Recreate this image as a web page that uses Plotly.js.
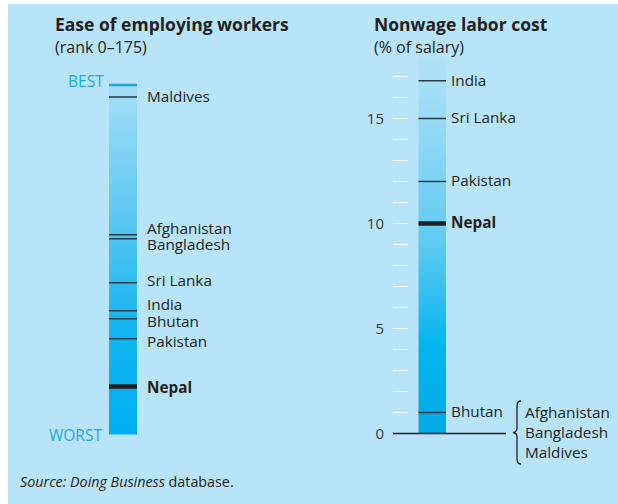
<!DOCTYPE html>
<html>
<head>
<meta charset="utf-8">
<script src="https://cdn.plot.ly/plotly-3.0.1.min.js"></script>
<style>html,body{margin:0;padding:0;background:#fff;}#chart{width:618px;height:504px;}</style>
</head>
<body>
<div id="chart"></div>
<script>
// ---- data ----
const leftCountries = ['Maldives','Afghanistan','Bangladesh','Sri Lanka','India','Bhutan','Pakistan','Nepal'];
const leftRanks = [6, 75, 77, 99, 113, 117, 127, 151];
const rankBest = 0;
const rankWorst = 175;
const rightCountries = ['India','Sri Lanka','Pakistan','Nepal','Bhutan'];
const rightValues = [16.8, 15, 12, 10, 1];
const zeroCountries = ['Afghanistan','Bangladesh','Maldives'];
const zeroValue = 0;
const costMax = 18;
const costTickVals = [0,1,2,3,4,5,6,7,8,9,10,11,12,13,14,15,16,17];
const costTickLabels = ['0','','','','','5','','','','','10','','','','','15','',''];
const highlight = 'Nepal';

// ---- styling / layout helpers ----
const W = 618, H = 504;
const px = x => x / W;
const py = y => 1 - y / H;
const BG = '#b8e4f9';
const TXT = '#231f20';
const CYAN = '#1fa9e1';
const FONT = 'Open Sans, Noto Sans, sans-serif';
const LBL = 15.3;
const leftShift = {'Maldives': 1, 'Afghanistan': 7, 'Bangladesh': -5, 'Sri Lanka': 3, 'India': 6.5, 'Bhutan': -2, 'Pakistan': -2, 'Nepal': 0};
const rightShift = {'India': 1, 'Sri Lanka': 1.5, 'Pakistan': 1.5, 'Nepal': 1, 'Bhutan': 1.5};

function lineTrace(vals, names, xa, ya, pick, width, color) {
  const xs = [], ys = [];
  vals.forEach((v, i) => { if (pick(names[i])) { xs.push(0, 1, null); ys.push(v, v, null); } });
  return {type:'scatter', mode:'lines', x: xs, y: ys, xaxis: xa, yaxis: ya,
          line:{color: color, width: width}, hoverinfo:'skip', showlegend:false};
}

const traces = [
  // left gradient bar
  {type:'scatter', mode:'lines', x:[0,1,1,0,0], y:[rankBest,rankBest,rankWorst,rankWorst,rankBest],
   fill:'toself', line:{width:0, color:'rgba(0,0,0,0)'},
   fillgradient:{type:'vertical', colorscale:[[0,'#00aeef'],[0.3,'#12b5ef'],[0.65,'#62c9f2'],[1,'#a6def7']]},
   xaxis:'x', yaxis:'y', hoverinfo:'skip', showlegend:false},
  lineTrace(leftRanks, leftCountries, 'x', 'y', n => n !== highlight, 1.5, '#2a3a42'),
  lineTrace(leftRanks, leftCountries, 'x', 'y', n => n === highlight, 4.5, TXT),
  {type:'scatter', mode:'lines', x:[0,1], y:[rankBest,rankBest], xaxis:'x', yaxis:'y',
   line:{color:CYAN, width:2.5}, hoverinfo:'skip', showlegend:false},
  // right gradient bar
  {type:'scatter', mode:'lines', x:[0,1,1,0,0], y:[zeroValue,zeroValue,costMax,costMax,zeroValue],
   fill:'toself', line:{width:0, color:'rgba(0,0,0,0)'},
   fillgradient:{type:'vertical', colorscale:[[0,'#05a9e6'],[0.22,'#00b4ef'],[0.5,'#5ecaf2'],[1,'#b3e3f8']]},
   xaxis:'x2', yaxis:'y2', hoverinfo:'skip', showlegend:false},
  lineTrace(rightValues, rightCountries, 'x2', 'y2', n => n !== highlight, 1.5, '#2a3a42'),
  lineTrace(rightValues, rightCountries, 'x2', 'y2', n => n === highlight, 4.5, TXT)
];

const annotations = [];
leftCountries.forEach((c, i) => {
  annotations.push({xref:'x', yref:'y', x:1, y:leftRanks[i], xanchor:'left', yanchor:'middle',
    xshift:9, yshift: leftShift[c] || 0, showarrow:false, borderpad:0,
    text: c === highlight ? '<b>' + c + '</b>' : c, font:{family:FONT, size:LBL, color:TXT}});
});
rightCountries.forEach((c, i) => {
  annotations.push({xref:'x2', yref:'y2', x:1, y:rightValues[i], xanchor:'left', yanchor:'middle',
    xshift:4, yshift: rightShift[c] || 0, showarrow:false, borderpad:0,
    text: c === highlight ? '<b>' + c + '</b>' : c, font:{family:FONT, size:LBL, color:TXT}});
});
annotations.push({xref:'paper', yref:'y2', x:px(524), y:zeroValue, xanchor:'left', yanchor:'middle',
  showarrow:false, align:'left', text: zeroCountries.join('<br>'), borderpad:0, yshift:1,
  font:{family:FONT, size:LBL, color:TXT}});
annotations.push({xref:'x', yref:'y', x:0, y:rankBest, xanchor:'right', yanchor:'middle', xshift:-3, yshift:4,
  showarrow:false, text:'BEST', font:{family:FONT, size:15.5, color:CYAN}});
annotations.push({xref:'x', yref:'y', x:0, y:rankWorst, xanchor:'right', yanchor:'middle', xshift:-5, yshift:0,
  showarrow:false, text:'WORST', font:{family:FONT, size:15.5, color:CYAN}});
// titles
annotations.push({xref:'paper', yref:'paper', x:px(53), y:py(24), xanchor:'left', yanchor:'middle', showarrow:false,
  text:'<b>Ease of employing workers</b>', font:{family:FONT, size:17.5, color:TXT}});
annotations.push({xref:'paper', yref:'paper', x:px(53), y:py(47), xanchor:'left', yanchor:'middle', showarrow:false,
  text:'(rank 0–175)', font:{family:FONT, size:16, color:TXT}});
annotations.push({xref:'paper', yref:'paper', x:px(372), y:py(24), xanchor:'left', yanchor:'middle', showarrow:false,
  text:'<b>Nonwage labor cost</b>', font:{family:FONT, size:17.5, color:TXT}});
annotations.push({xref:'paper', yref:'paper', x:px(372), y:py(47), xanchor:'left', yanchor:'middle', showarrow:false,
  text:'(% of salary)', font:{family:FONT, size:16, color:TXT}});
annotations.push({xref:'paper', yref:'paper', x:px(18), y:py(481), xanchor:'left', yanchor:'middle', showarrow:false,
  text:'<i>Source: Doing Business</i> database.', font:{family:FONT, size:14.3, color:TXT}});

// brace path in paper coords
function P(x, y) { return px(x).toFixed(5) + ',' + py(y).toFixed(5); }
const brace = 'M' + P(521,401) + ' Q' + P(517,401) + ' ' + P(517,406) + ' L' + P(517,428) +
  ' Q' + P(517,432) + ' ' + P(513,432.5) + ' Q' + P(517,433) + ' ' + P(517,437) +
  ' L' + P(517,459) + ' Q' + P(517,464) + ' ' + P(521,464);

const shapes = [
  {type:'rect', xref:'paper', yref:'paper', x0:px(8), x1:1, y0:0, y1:py(4), fillcolor:BG, line:{width:0}, layer:'below'},
  {type:'line', xref:'paper', yref:'y2', x0:px(393), x1:px(506), y0:zeroValue, y1:zeroValue, line:{color:TXT, width:1.3}},
  {type:'path', xref:'paper', yref:'paper', path:brace, line:{color:TXT, width:1.3}}
];

const layout = {
  width:W, height:H, margin:{l:0, r:0, t:0, b:0},
  paper_bgcolor:'#ffffff', plot_bgcolor:'rgba(0,0,0,0)',
  showlegend:false, hovermode:false,
  xaxis:{domain:[px(109), px(137)], range:[0,1], visible:false, fixedrange:true},
  yaxis:{domain:[py(438.5), py(79)], range:[rankWorst + 2, rankBest - 3], visible:false, anchor:'x', fixedrange:true},
  xaxis2:{domain:[px(418.3), px(446)], range:[0,1], visible:false, anchor:'y2', fixedrange:true},
  yaxis2:{domain:[py(444), py(40.8)], range:[-0.5, costMax + 0.7], anchor:'free', position:px(408),
    showgrid:false, zeroline:false, showline:false, ticks:'outside', ticklen:15, tickwidth:1.5,
    tickcolor:'#ffffff', tickvals:costTickVals, ticktext:costTickLabels, ticklabelstandoff:6,
    tickfont:{family:FONT, size:15, color:'#3a3a3a'}, automargin:false, fixedrange:true},
  annotations:annotations, shapes:shapes
};

Plotly.newPlot('chart', traces, layout, {displayModeBar:false, staticPlot:true});
</script>
</body>
</html>
